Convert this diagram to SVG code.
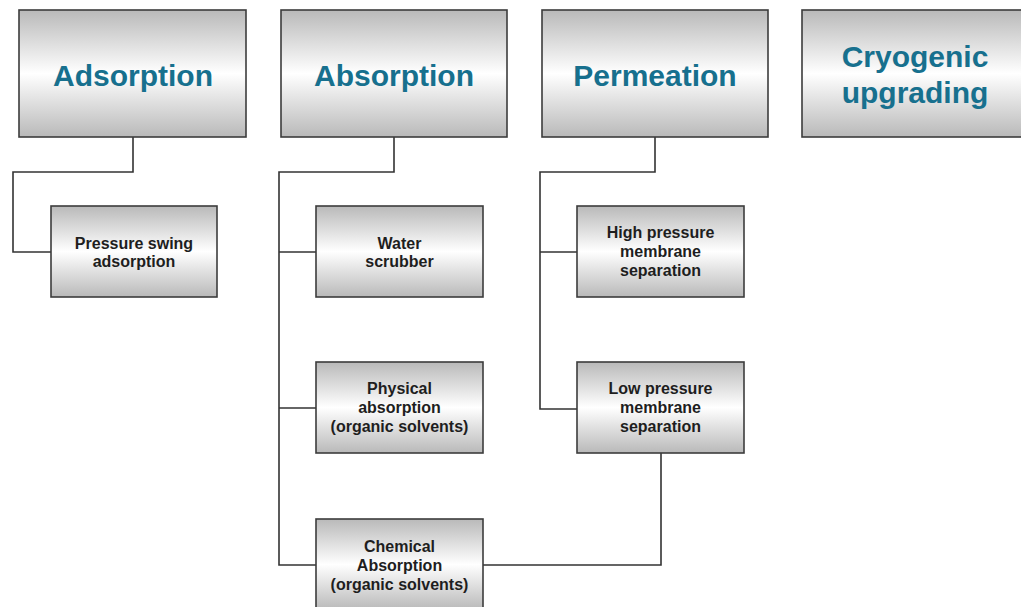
<svg xmlns="http://www.w3.org/2000/svg" width="1021" height="607" viewBox="0 0 1021 607">
<defs>
<linearGradient id="g" x1="0" y1="0" x2="0" y2="1">
<stop offset="0" stop-color="#b9b9b9"/>
<stop offset="0.5" stop-color="#ffffff"/>
<stop offset="1" stop-color="#b9b9b9"/>
</linearGradient>
<style>
.box{fill:url(#g);stroke:#3c3c3c;stroke-width:1.6}
.big{font-family:"Liberation Sans",Arial,sans-serif;font-weight:bold;font-size:30px;fill:#17708e;text-anchor:middle}
.sm{font-family:"Liberation Sans",Arial,sans-serif;font-weight:bold;font-size:16px;fill:#1e1e1e;text-anchor:middle}
.ln{fill:none;stroke:#333;stroke-width:1.6}
</style>
</defs>
<rect width="1021" height="607" fill="#fff"/>
<g id="connectors">
<polyline class="ln" points="133,137 133,172 13,172 13,252 51,252"/>
<polyline class="ln" points="394,137 394,172 279,172 279,565 316,565"/>
<line class="ln" x1="279" y1="252" x2="316" y2="252"/>
<line class="ln" x1="279" y1="408" x2="316" y2="408"/>
<polyline class="ln" points="483,565 661,565 661,453"/>
<polyline class="ln" points="655,137 655,172 540,172 540,409 577,409"/>
<line class="ln" x1="540" y1="252" x2="577" y2="252"/>
</g>
<g id="adsorption"><rect class="box" x="19" y="10" width="227" height="127"/><text class="big" x="133" y="86">Adsorption</text></g>
<g id="absorption"><rect class="box" x="281" y="10" width="226" height="127"/><text class="big" x="394" y="86">Absorption</text></g>
<g id="permeation"><rect class="box" x="542" y="10" width="226" height="127"/><text class="big" x="655" y="86">Permeation</text></g>
<g id="cryogenic"><rect class="box" x="802" y="10" width="227" height="127"/><text class="big" x="915" y="67">Cryogenic</text><text class="big" x="915" y="103">upgrading</text></g>
<g id="psa"><rect class="box" x="51" y="206" width="166" height="91"/><text class="sm" x="134" y="249">Pressure swing</text><text class="sm" x="134" y="267">adsorption</text></g>
<g id="water"><rect class="box" x="316" y="206" width="167" height="91"/><text class="sm" x="399.5" y="249">Water</text><text class="sm" x="399.5" y="267">scrubber</text></g>
<g id="physical"><rect class="box" x="316" y="362" width="167" height="91"/><text class="sm" x="399.5" y="394">Physical</text><text class="sm" x="399.5" y="413">absorption</text><text class="sm" x="399.5" y="432">(organic solvents)</text></g>
<g id="chemical"><rect class="box" x="316" y="519" width="167" height="91"/><text class="sm" x="399.5" y="552">Chemical</text><text class="sm" x="399.5" y="571">Absorption</text><text class="sm" x="399.5" y="590">(organic solvents)</text></g>
<g id="highpressure"><rect class="box" x="577" y="206" width="167" height="91"/><text class="sm" x="660.5" y="238">High pressure</text><text class="sm" x="660.5" y="257">membrane</text><text class="sm" x="660.5" y="276">separation</text></g>
<g id="lowpressure"><rect class="box" x="577" y="362" width="167" height="91"/><text class="sm" x="660.5" y="394">Low pressure</text><text class="sm" x="660.5" y="413">membrane</text><text class="sm" x="660.5" y="432">separation</text></g>
</svg>
